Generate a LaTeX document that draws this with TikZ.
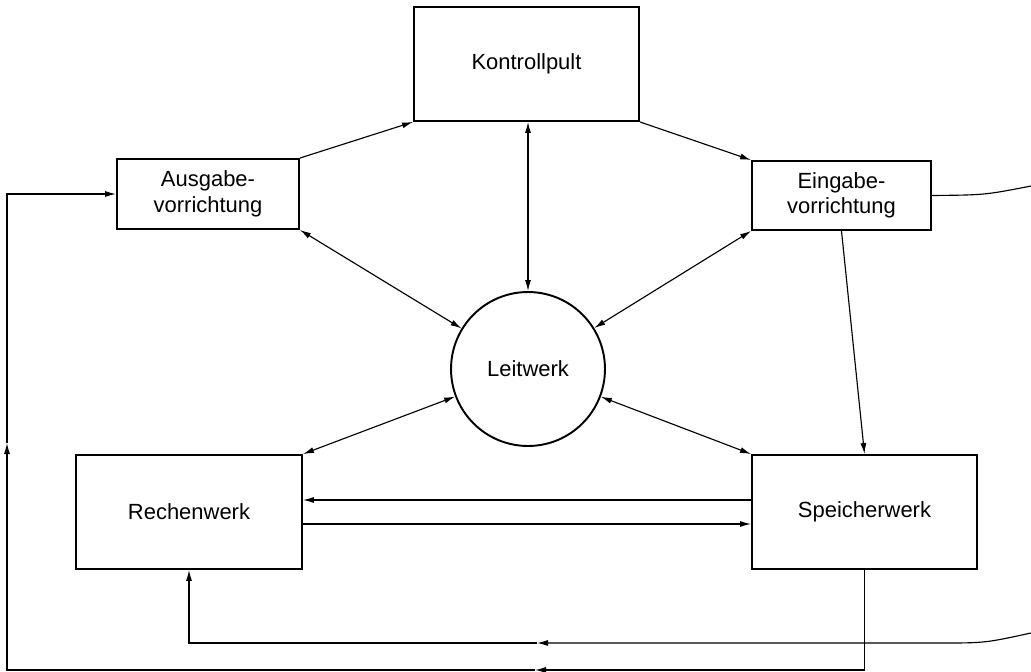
\documentclass[tikz,border=0pt]{standalone}
\usepackage{fontspec}
\setmainfont{Liberation Sans}
\usetikzlibrary{arrows.meta}

\begin{document}
\begin{tikzpicture}[x=0.02cm,y=-0.02cm,>={Latex[length=2.2mm,width=1.2mm]},
  kasten/.style={draw,line width=1.1pt,align=center,inner sep=2pt,font=\fontsize{12.5}{14.5}\selectfont},
  rund/.style={draw,circle,line width=1.1pt,inner sep=0pt,minimum size=3.08cm,font=\fontsize{12.5}{14.5}\selectfont},
  pfeil/.style={line width=0.65pt}]
\useasboundingbox (0,0) rectangle (1031,672);
% Kaesten
\node[kasten,minimum width=4.5cm,minimum height=2.28cm] (kontroll) at (526.5,64) {Kontrollpult};
\node[kasten,minimum width=3.64cm,minimum height=1.4cm] (ausgabe) at (208,194) {Ausgabe-\\vorrichtung};
\node[kasten,minimum width=3.58cm,minimum height=1.38cm] (eingabe) at (841.5,195.5) {Eingabe-\\vorrichtung};
\node[rund] (leit) at (528,369) {Leitwerk};
\node[kasten,minimum width=4.52cm,minimum height=2.28cm] (rechen) at (189,512) {Rechenwerk};
\node[kasten,minimum width=4.5cm,minimum height=2.28cm] (speicher) at (864.5,512) {Speicherwerk};
% Hilfspunkte
\coordinate (ein) at (1031,186);
\coordinate (rueck) at (1031,633);
\coordinate (m1) at (537,643);
\coordinate (m2) at (535,670);
\coordinate (m3) at (7,443);
% Verbindungen
\draw [pfeil,->] (ausgabe.north east) -- (kontroll.south west);
\draw [pfeil,->] (kontroll.south east) -- (eingabe.north west);
\draw [pfeil,<->] (kontroll.south -| leit.north) -- (leit.north);
\draw [pfeil,<->] (ausgabe.south east) -- (leit);
\draw [pfeil,<->] (eingabe.south west) -- (leit);
\draw [pfeil,<->] (rechen.north east) -- (leit);
\draw [pfeil,<->] (speicher.north west) -- (leit);
\draw [pfeil,->] (eingabe.south) -- (speicher.north);
\draw [pfeil,->] ([yshift=0.24cm]speicher.west) -- ([yshift=0.24cm]rechen.east);
\draw [pfeil,->] ([yshift=-0.24cm]rechen.east) -- ([yshift=-0.24cm]speicher.west);
\draw [pfeil] (eingabe.east) .. controls (985,195) .. (ein);
\draw [pfeil,->] (rueck) .. controls (985,643) .. (940,643) -- (m1);
\draw [pfeil,->] (m1) -| (rechen.south);
\draw [pfeil,->] (speicher.south) |- (m2);
\draw [pfeil,->] (m2) -| (m3);
\draw [pfeil,->] (m3) |- (ausgabe.west);
\end{tikzpicture}
\end{document}
